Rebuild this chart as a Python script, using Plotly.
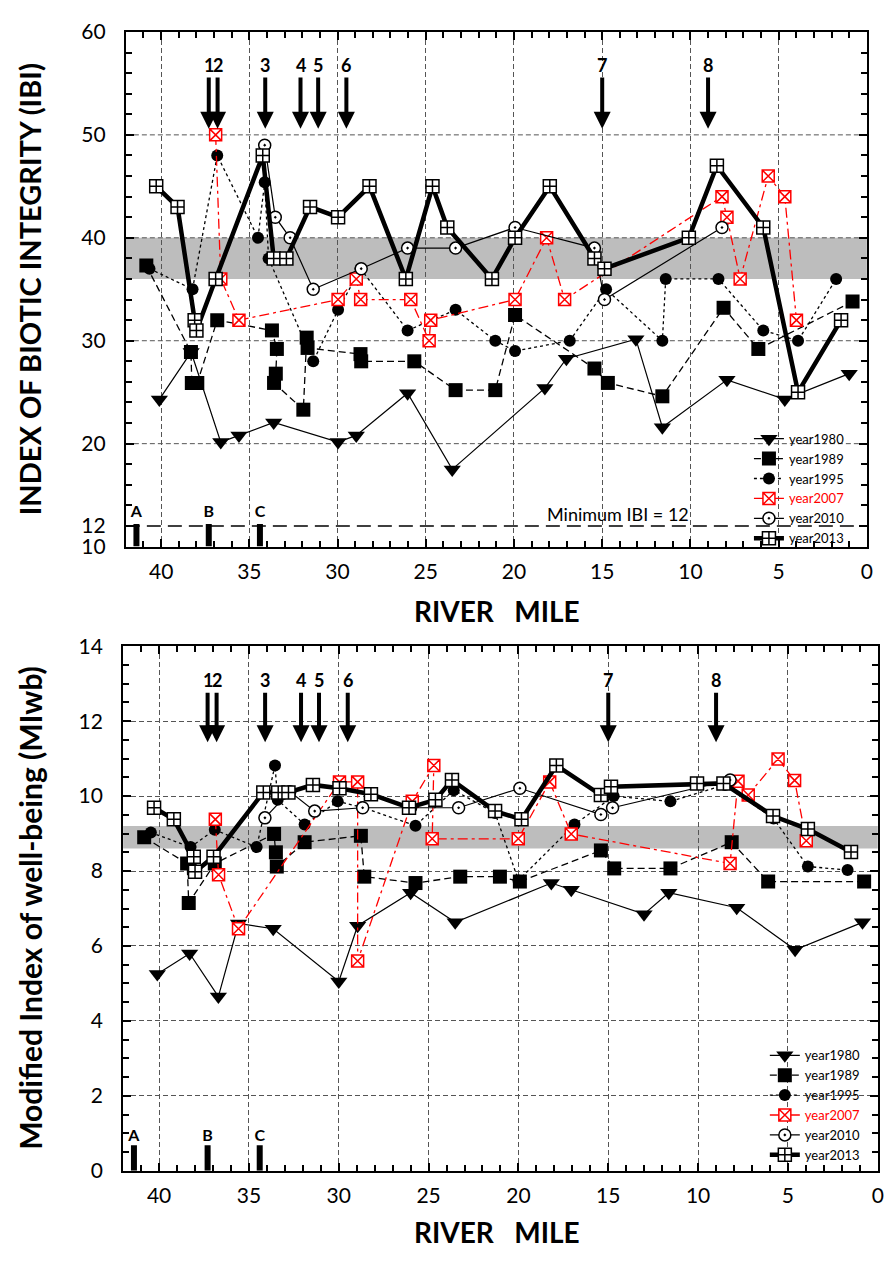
import plotly.graph_objects as go

W, H = 894, 1268
FONT = "Lato"

# ---------------- Upper panel: Index of Biotic Integrity ----------------
ibi_rm_1980 = [40.1, 38.3, 36.62, 35.59, 33.62, 29.97, 28.94, 26.03, 23.5, 18.25, 17.03, 13.09, 11.59, 7.93, 4.65, 1.0]
ibi_1980 = [24.3, 28.9, 20.15, 20.8, 22.06, 20.15, 20.8, 24.9, 17.5, 25.4, 28.25, 30.15, 21.6, 26.2, 24.3, 26.8]

ibi_rm_1989 = [40.84, 38.31, 38.26, 37.95, 36.82, 33.72, 33.44, 33.5, 33.6, 31.94, 31.75, 31.7, 28.7, 28.66,
               25.65, 23.31, 21.06, 19.94, 15.44, 14.68, 11.59, 8.12, 6.15, 0.81]
ibi_1989 = [37.3, 28.9, 25.9, 25.9, 32.0, 31.0, 29.2, 26.8, 25.9, 23.3, 30.3, 29.3, 28.7, 28.0,
            28.0, 25.2, 25.2, 32.5, 27.3, 25.9, 24.6, 33.2, 29.2, 33.8]

ibi_rm_1995 = [40.66, 38.22, 36.82, 34.51, 34.13, 33.91, 31.38, 29.97, 28.7, 26.03, 23.31, 21.06, 19.94,
               16.84, 14.78, 11.59, 11.40, 8.41, 5.87, 3.90, 1.74]
ibi_1995 = [37, 35, 48, 40, 45.4, 38, 28, 33, 37, 31, 33, 30, 29, 30, 35, 30, 36, 36, 31, 30, 36]

ibi_rm_2007 = [36.91, 36.62, 35.59, 29.97, 28.94, 28.69, 25.85, 24.81, 24.72, 19.94, 18.15, 17.13,
               8.21, 7.93, 7.18, 5.59, 4.65, 3.99]
ibi_2007 = [50, 36, 32, 34, 36, 34, 34, 30, 32, 34, 40, 34, 44, 42, 36, 46, 44, 32]

ibi_rm_2010 = [34.13, 33.53, 32.69, 31.38, 28.66, 26.03, 23.31, 19.94, 15.44, 14.87, 8.21]
ibi_2010 = [49, 42, 40, 35, 37, 39, 39, 41, 39, 34, 41]

ibi_rm_2013 = [40.28, 39.07, 38.1, 38.0, 36.91, 34.24, 33.62, 32.9, 31.56, 29.97, 28.19, 26.13, 24.62,
               23.78, 21.25, 19.94, 17.97, 15.44, 14.87, 10.09, 8.50, 5.87, 3.90, 1.46]
ibi_2013 = [45, 43, 32, 31, 36, 48, 38, 38, 43, 42, 45, 36, 45, 41, 36, 40, 45, 38, 37, 40, 47, 41, 25, 32]

# ---------------- Lower panel: Modified Index of well-being ----------------
miwb_rm_1980 = [40.1, 38.3, 36.7, 35.58, 33.65, 30.0, 28.95, 26.0, 23.52, 18.17, 17.06, 13.01, 11.63, 7.85, 4.6, 0.85]
miwb_1980 = [5.25, 5.8, 4.65, 6.6, 6.46, 5.05, 6.54, 7.42, 6.63, 7.68, 7.5, 6.85, 7.42, 7.02, 5.9, 6.63]

miwb_rm_1989 = [40.83, 38.44, 38.35, 36.9, 33.6, 33.5, 33.45, 31.9, 28.77, 28.58, 25.73, 23.24, 21.03,
                19.92, 15.41, 14.67, 11.54, 8.13, 6.1, 0.76]
miwb_1989 = [8.9, 8.2, 7.15, 8.2, 8.99, 8.5, 8.12, 8.77, 8.94, 7.85, 7.68, 7.85, 7.85,
             7.72, 8.55, 8.07, 8.07, 8.77, 7.72, 7.72]

miwb_rm_1995 = [40.46, 38.25, 36.9, 34.57, 33.55, 33.4, 31.9, 30.06, 28.7, 25.73, 23.6, 21.3, 20.0,
                16.88, 14.7, 11.54, 8.5, 5.8, 3.89, 1.68]
miwb_1995 = [9.03, 8.64, 9.1, 8.64, 10.82, 9.9, 9.24, 9.86, 9.7, 9.21, 10.16, 9.55, 7.75,
             9.24, 10.0, 9.86, 10.3, 9.4, 8.12, 8.03]

miwb_rm_2007 = [36.87, 36.69, 35.58, 29.96, 28.95, 28.95, 25.91, 24.71, 24.8, 20.01, 18.26, 17.06,
                8.22, 7.78, 7.21, 5.55, 4.63, 3.98]
miwb_2007 = [9.38, 7.9, 6.46, 10.38, 10.38, 5.6, 9.86, 10.82, 8.86, 8.86, 10.38, 8.99,
             8.2, 10.4, 10.03, 10.99, 10.42, 8.81]

miwb_rm_2010 = [34.11, 32.73, 31.34, 28.67, 26.0, 23.33, 19.92, 15.41, 14.76, 8.22]
miwb_2010 = [9.42, 10.12, 9.6, 9.69, 9.69, 9.69, 10.21, 9.51, 9.69, 10.43]

miwb_rm_2013 = [40.28, 39.18, 38.07, 38.0, 36.97, 34.2, 33.37, 32.8, 31.44, 29.96, 28.21, 26.09, 24.62,
                23.7, 21.3, 19.83, 17.89, 15.41, 14.85, 10.06, 8.59, 5.83, 3.89, 1.49]
miwb_2013 = [9.69, 9.38, 8.38, 7.98, 8.38, 10.1, 10.1, 10.1, 10.3, 10.21, 10.05, 9.69, 9.9,
             10.43, 9.6, 9.38, 10.82, 10.03, 10.25, 10.34, 10.34, 9.47, 9.12, 8.51]

# Point sources (numbered arrows) and reference sites A-C
source_labels = ["1", "2", "3", "4", "5", "6", "7", "8"]
source_rm = [37.3, 36.8, 34.1, 32.1, 31.1, 29.5, 15.0, 9.0]
site_labels = ["A", "B", "C"]
site_rm = [41.4, 37.3, 34.4]

# Expected-value bands
ibi_band = (36, 40)
miwb_band = (8.6, 9.2)
ibi_minimum = 12

years = ["1980", "1989", "1995", "2007", "2010", "2013"]
upper = {
    "1980": (ibi_rm_1980, ibi_1980), "1989": (ibi_rm_1989, ibi_1989), "1995": (ibi_rm_1995, ibi_1995),
    "2007": (ibi_rm_2007, ibi_2007), "2010": (ibi_rm_2010, ibi_2010), "2013": (ibi_rm_2013, ibi_2013),
}
lower = {
    "1980": (miwb_rm_1980, miwb_1980), "1989": (miwb_rm_1989, miwb_1989), "1995": (miwb_rm_1995, miwb_1995),
    "2007": (miwb_rm_2007, miwb_2007), "2010": (miwb_rm_2010, miwb_2010), "2013": (miwb_rm_2013, miwb_2013),
}

styles = {
    "1980": dict(line=dict(color="black", width=1.2),
                 marker=dict(symbol="triangle-down", size=15, color="black")),
    "1989": dict(line=dict(color="black", width=1.3, dash="7px,4px"),
                 marker=dict(symbol="square", size=14, color="black")),
    "1995": dict(line=dict(color="black", width=1.3, dash="3px,3px"),
                 marker=dict(symbol="circle", size=12, color="black")),
    "2007": dict(line=dict(color="red", width=1.3, dash="10px,4px,3px,4px"),
                 marker=dict(symbol="square-x", size=12, color="white", line=dict(color="red", width=1.5))),
    "2010": dict(line=dict(color="black", width=1.2),
                 marker=dict(symbol="circle-dot", size=12, color="white", line=dict(color="black", width=1.5))),
    "2013": dict(line=dict(color="black", width=4.5),
                 marker=dict(symbol="square-cross", size=13, color="white", line=dict(color="black", width=1.5))),
}


def legend_name(y):
    if y == "2007":
        return "<span style='color:red'>year2007</span>"
    return "year" + y


fig = go.Figure()

for data, xa, ya, lg in [(upper, "x", "y", "legend"), (lower, "x2", "y2", "legend2")]:
    for y in years:
        xs, vs = data[y]
        st = styles[y]
        fig.add_trace(go.Scatter(
            x=xs, y=vs, mode="lines+markers", name=legend_name(y),
            line=st["line"], marker=st["marker"], xaxis=xa, yaxis=ya, legend=lg,
            showlegend=True,
        ))

# Reference-site bars A, B, C
for xa, ya, y0, y1, ytxt in [("x", "y", 10, 12.2, 13.3), ("x2", "y2", 0, 0.68, 0.9)]:
    bx, by = [], []
    for r in site_rm:
        bx += [r, r, None]
        by += [y0, y1, None]
    fig.add_trace(go.Scatter(x=bx, y=by, mode="lines", line=dict(color="black", width=6),
                             xaxis=xa, yaxis=ya, showlegend=False, hoverinfo="skip"))
    fig.add_trace(go.Scatter(x=site_rm, y=[ytxt] * len(site_rm), mode="text", text=site_labels,
                             textfont=dict(family=FONT, size=16, color="black", weight="bold"),
                             xaxis=xa, yaxis=ya, showlegend=False, hoverinfo="skip"))

# Numbered point-source arrows
annotations = []
for xr, yr, tip, tail in [("x", "y", 50.6, 56.8), ("x2", "y2", 11.44, 13.09)]:
    for lab, r in zip(source_labels, source_rm):
        annotations.append(dict(
            x=r, y=tip, ax=r, ay=tail, xref=xr, yref=yr, axref=xr, ayref=yr,
            text="<b>%s</b>" % lab, showarrow=True, arrowhead=2, arrowsize=0.85, arrowwidth=4,
            arrowcolor="black", standoff=0, font=dict(family=FONT, size=18, color="black"),
        ))

annotations.append(dict(x=14.1, y=13.2, xref="x", yref="y", text="Minimum IBI = 12", showarrow=False,
                        font=dict(family=FONT, size=18, color="black")))

# Axis titles
annotations += [
    dict(x=30 / W, y=1 - 281 / H, xref="paper", yref="paper", xanchor="center", yanchor="middle",
         text="<b>INDEX OF BIOTIC INTEGRITY (IBI)</b>", textangle=-90, showarrow=False,
         font=dict(family=FONT, size=29, color="black")),
    dict(x=500 / W, y=1 - 609 / H, xref="paper", yref="paper", xanchor="center", yanchor="middle",
         text="<b>RIVER\u00a0\u00a0\u00a0MILE</b>", showarrow=False, font=dict(family=FONT, size=28, color="black")),
    dict(x=30 / W, y=1 - 912 / H, xref="paper", yref="paper", xanchor="center", yanchor="middle",
         text="<b>Modified Index of well-being (MIwb)</b>", textangle=-90, showarrow=False,
         font=dict(family=FONT, size=30, color="black")),
    dict(x=500 / W, y=1 - 1243 / H, xref="paper", yref="paper", xanchor="center", yanchor="middle",
         text="<b>RIVER\u00a0\u00a0\u00a0MILE</b>", showarrow=False, font=dict(family=FONT, size=28, color="black")),
]

shapes = [
    dict(type="rect", xref="x domain", yref="y", x0=0, x1=1, y0=ibi_band[0], y1=ibi_band[1],
         fillcolor="#bdbdbd", line=dict(width=0), layer="below"),
    dict(type="rect", xref="x2 domain", yref="y2", x0=0, x1=1, y0=miwb_band[0], y1=miwb_band[1],
         fillcolor="#bdbdbd", line=dict(width=0), layer="below"),
    dict(type="line", xref="x domain", yref="y", x0=0, x1=1, y0=ibi_minimum, y1=ibi_minimum,
         line=dict(color="black", width=1.3, dash="14px,7px"), layer="below"),
]
for v in [20, 30, 40, 50]:
    shapes.append(dict(type="line", xref="x domain", yref="y", x0=0, x1=1, y0=v, y1=v,
                       line=dict(color="#555555", width=1, dash="5px,3px"), layer="below"))

tickfont = dict(family=FONT, size=21, color="black")
common_x = dict(range=[42, 0], tickmode="linear", tick0=0, dtick=5, ticks="inside", ticklen=8,
                tickwidth=1.5, tickcolor="black", showline=True, linecolor="black", linewidth=2,
                mirror="allticks", showgrid=True, gridcolor="#555555", gridwidth=1, griddash="5px,3px",
                minor=dict(dtick=1, ticks="inside", ticklen=6, tickwidth=1.5, tickcolor="black", showgrid=False),
                tickfont=tickfont, ticklabelstandoff=5, zeroline=False)

legend_font = dict(family=FONT, size=13, color="black")
fig.update_layout(
    width=W, height=H, margin=dict(l=0, r=0, t=0, b=0),
    paper_bgcolor="white", plot_bgcolor="white",
    font=dict(family=FONT, color="black"),
    xaxis=dict(domain=[126.7 / W, 872.7 / W], anchor="y", **common_x),
    yaxis=dict(domain=[1 - 543.3 / H, 1 - 18.3 / H], anchor="x", range=[10, 60],
               tickvals=[10, 12, 20, 30, 40, 50, 60], ticks="inside", ticklen=8, tickwidth=1.5,
               tickcolor="black", showline=True, linecolor="black", linewidth=2, mirror="allticks",
               showgrid=False, zeroline=False,
               minor=dict(tick0=10, dtick=2, ticks="inside", ticklen=6, tickwidth=1.5, tickcolor="black"),
               tickfont=tickfont, ticklabelstandoff=14),
    xaxis2=dict(domain=[124 / W, 883.7 / W], anchor="y2", **common_x),
    yaxis2=dict(domain=[1 - 1180 / H, 1 - 645 / H], anchor="x2", range=[0, 14],
                tickmode="linear", tick0=0, dtick=2, ticks="inside", ticklen=8, tickwidth=1.5,
                tickcolor="black", showline=True, linecolor="black", linewidth=2, mirror="allticks",
                showgrid=True, gridcolor="#555555", gridwidth=1, griddash="5px,3px", zeroline=False,
                minor=dict(dtick=0.5, ticks="inside", ticklen=6, tickwidth=1.5, tickcolor="black", showgrid=False),
                tickfont=tickfont, ticklabelstandoff=14),
    legend=dict(x=754 / W, y=1 - 418 / H, xanchor="left", yanchor="top", bgcolor="rgba(0,0,0,0)",
                font=legend_font, tracegroupgap=0, itemwidth=30),
    legend2=dict(x=770 / W, y=1 - 1047 / H, xanchor="left", yanchor="top", bgcolor="rgba(0,0,0,0)",
                 font=legend_font, tracegroupgap=0, itemwidth=30),
    annotations=annotations, shapes=shapes, showlegend=True,
)

fig.write_html("out.html")
